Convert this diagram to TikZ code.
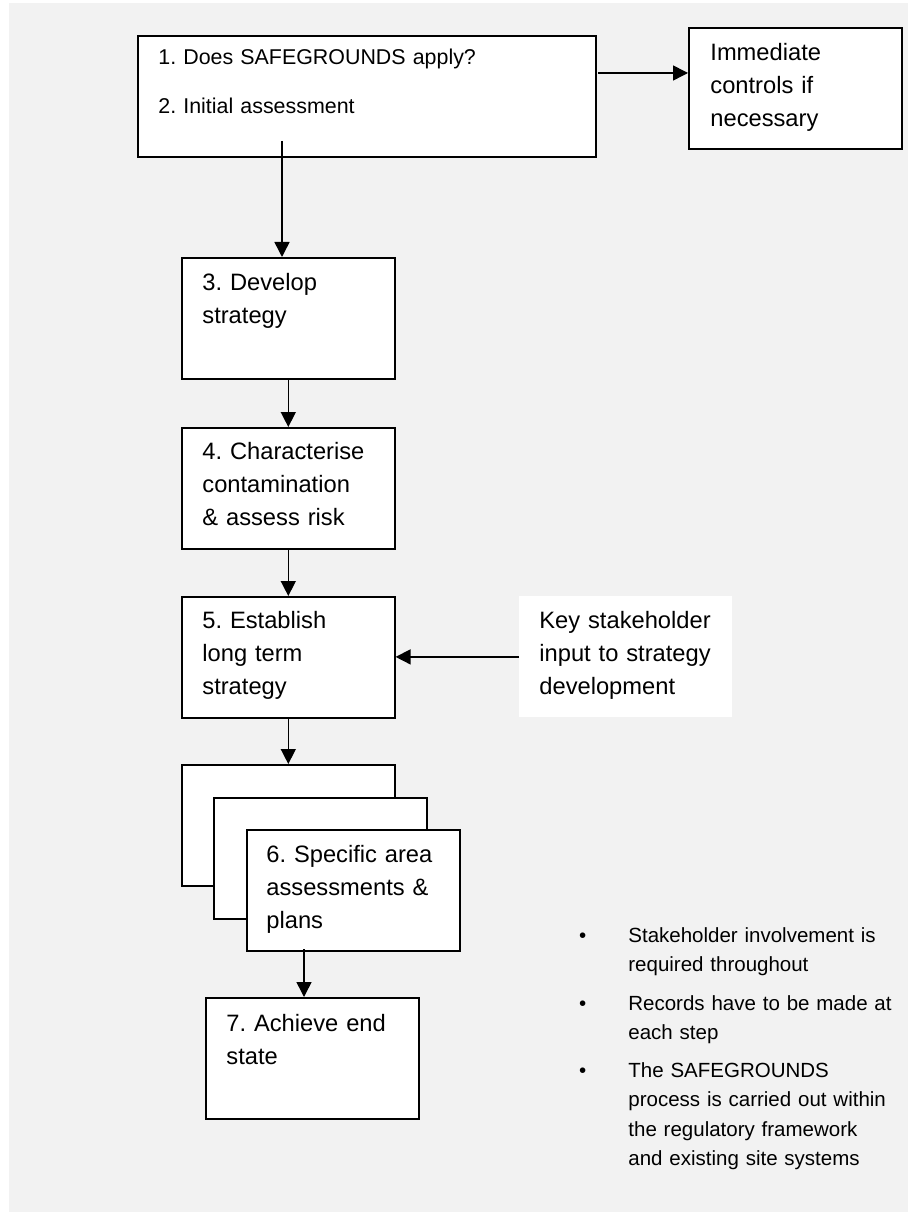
\documentclass[tikz,border=0pt]{standalone}
\usepackage{fontspec}
\setmainfont{Liberation Sans}
\usepackage{xcolor}
\definecolor{panel}{RGB}{242, 242, 242}
\usepackage{tikz}
\usetikzlibrary{arrows.meta,positioning}
\newcommand{\bulletmark}{\leavevmode\llap{\textbullet\hspace{21pt}}}
\frenchspacing

\begin{document}
\begin{tikzpicture}[x=0.5pt, y=-0.5pt,
    stage/.style={draw, fill=white, line width=0.8pt, inner sep=0pt, anchor=north west,
        minimum width=106.5pt, minimum height=60.5pt},
    inputbox/.style={fill=white, inner sep=0pt, anchor=north west,
        minimum width=106.5pt, minimum height=60.5pt},
    stagetext/.style={anchor=base west, inner sep=0pt, text width=100pt, align=left,
        font=\fontsize{11.85}{16.5}\selectfont},
    notetext/.style={anchor=base west, inner sep=0pt, text width=140pt, align=left,
        font=\fontsize{10.25}{14.75}\selectfont},
    flow/.style={line width=0.75pt, -{Triangle[length=7.5pt, width=7.5pt]}}]
    % Page and background
    \useasboundingbox (0, 0) rectangle (908, 1213);
    \fill[panel] (9, 3) rectangle (908, 1212);

    % Boxes
    \node[stage, minimum width=229pt] (s1) at (137, 35) {};
    \node[stage] (imm) at (688, 27) {};
    \node[stage] (s3) at (181, 257) {};
    \node[stage] (s4) at (181, 427) {};
    \node[stage] (s5) at (181, 596) {};
    \node[inputbox] (key) at (519, 596) {};
    \node[stage] (s6a) at (181, 764) {};
    \node[stage] (s6b) at (213, 797) {};
    \node[stage] (s6c) at (246, 829) {};
    \node[stage] (s7) at (205, 997) {};

    % Box texts
    \node[stagetext, text width=220pt, font=\fontsize{10.7}{24.5}\selectfont] (t1)
        at ([shift={(21, 30)}]s1.north west) {1. Does SAFEGROUNDS apply?\\2. Initial assessment};
    \node[stagetext] (timm) at ([shift={(22, 34)}]imm.north west) {Immediate\\controls if\\necessary};
    \node[stagetext] (t3) at ([shift={(21, 34)}]s3.north west) {3. Develop\\strategy};
    \node[stagetext] (t4) at ([shift={(21, 32)}]s4.north west) {4. Characterise\\contamination\\\& assess risk};
    \node[stagetext] (t5) at ([shift={(21, 32)}]s5.north west) {5. Establish\\long term\\strategy};
    \node[stagetext] (tkey) at ([shift={(20, 32)}]key.north west) {Key stakeholder\\input to strategy\\development};
    \node[stagetext] (t6) at ([shift={(20, 33)}]s6c.north west) {6. Specific area\\assessments \&\\plans};
    \node[stagetext] (t7) at ([shift={(21, 34)}]s7.north west) {7. Achieve end\\state};

    % Connectors
    \coordinate (a1) at (598, 73);
    \coordinate (a2) at (282, 141);
    \coordinate (a3) at (304, 949);
    \draw[flow] (a1) -- (a1 -| imm.west);
    \draw[flow] (a2) -- (a2 |- s3.north);
    \draw[flow] (s3.south) -- (s4.north);
    \draw[flow] (s4.south) -- (s5.north);
    \draw[flow] (key.west) -- (key.west -| s5.east);
    \draw[flow] (s5.south) -- (s6a.north);
    \draw[flow] (a3) -- (a3 |- s7.north);

    % Notes
    \node[notetext] (n1) at (628, 942) {\bulletmark Stakeholder involvement is\\required throughout};
    \node[notetext] (n2) at (628, 1010) {\bulletmark Records have to be made at\\each step};
    \node[notetext] (n3) at (628, 1077) {\bulletmark The SAFEGROUNDS\\process is carried out within\\the regulatory framework\\and existing site systems};
\end{tikzpicture}
\end{document}
